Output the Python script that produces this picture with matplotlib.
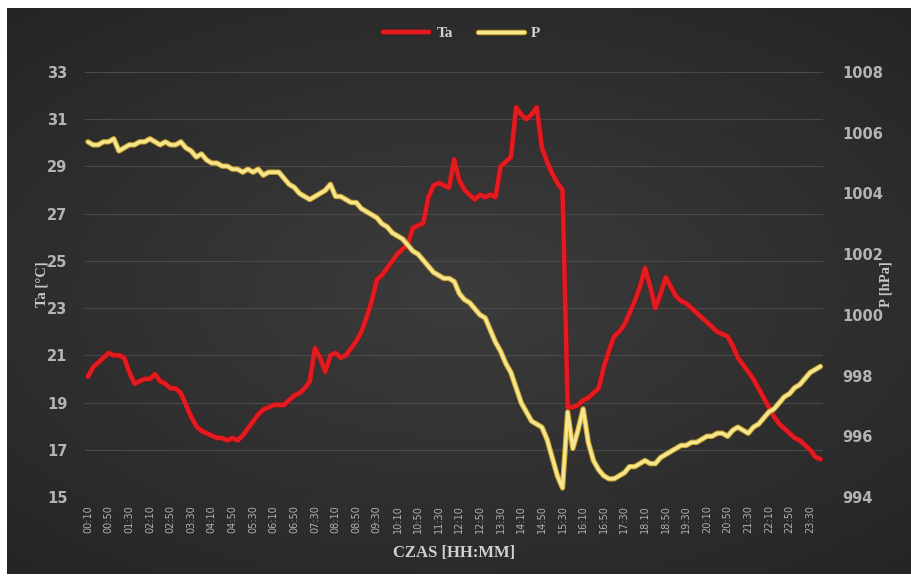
import numpy as np
import matplotlib
matplotlib.use("Agg")
import matplotlib.pyplot as plt
import matplotlib.patheffects as pe

# ---- data ----
times = [f"{(10 + 10 * i) // 60 % 24:02d}:{(10 + 10 * i) % 60:02d}" for i in range(143)]

ta = [20.1, 20.5, 20.7, 20.9, 21.1, 21.0, 21.0, 20.9, 20.3, 19.8,
      19.9, 20.0, 20.0, 20.2, 19.9, 19.8, 19.6, 19.6, 19.4, 18.9,
      18.4, 18.0, 17.8, 17.7, 17.6, 17.5, 17.5, 17.4, 17.5, 17.4,
      17.6, 17.9, 18.2, 18.5, 18.7, 18.8, 18.9, 18.9, 18.9, 19.1,
      19.3, 19.4, 19.6, 19.9, 21.3, 20.9, 20.3, 21.0, 21.1, 20.9,
      21.0, 21.3, 21.6, 22.0, 22.6, 23.3, 24.2, 24.4, 24.7, 25.0,
      25.3, 25.5, 25.7, 26.4, 26.5, 26.6, 27.7, 28.2, 28.3, 28.2,
      28.1, 29.3, 28.4, 28.0, 27.8, 27.6, 27.8, 27.7, 27.8, 27.7,
      29.0, 29.2, 29.4, 31.5, 31.2, 31.0, 31.2, 31.5, 29.8, 29.2,
      28.7, 28.3, 28.0, 18.8, 18.8, 18.9, 19.1, 19.2, 19.4, 19.6,
      20.5, 21.2, 21.8, 22.0, 22.3, 22.8, 23.3, 23.9, 24.7, 23.9,
      23.0, 23.6, 24.3, 23.9, 23.5, 23.3, 23.2, 23.0, 22.8, 22.6,
      22.4, 22.2, 22.0, 21.9, 21.8, 21.4, 20.9, 20.6, 20.3, 20.0,
      19.6, 19.2, 18.8, 18.4, 18.1, 17.9, 17.7, 17.5, 17.4, 17.2,
      17.0, 16.7, 16.6]

p = [1005.7, 1005.6, 1005.6, 1005.7, 1005.7, 1005.8, 1005.4, 1005.5, 1005.6, 1005.6,
     1005.7, 1005.7, 1005.8, 1005.7, 1005.6, 1005.7, 1005.6, 1005.6, 1005.7, 1005.5,
     1005.4, 1005.2, 1005.3, 1005.1, 1005.0, 1005.0, 1004.9, 1004.9, 1004.8, 1004.8,
     1004.7, 1004.8, 1004.7, 1004.8, 1004.6, 1004.7, 1004.7, 1004.7, 1004.5, 1004.3,
     1004.2, 1004.0, 1003.9, 1003.8, 1003.9, 1004.0, 1004.1, 1004.3, 1003.9, 1003.9,
     1003.8, 1003.7, 1003.7, 1003.5, 1003.4, 1003.3, 1003.2, 1003.0, 1002.9, 1002.7,
     1002.6, 1002.5, 1002.3, 1002.1, 1002.0, 1001.8, 1001.6, 1001.4, 1001.3, 1001.2,
     1001.2, 1001.1, 1000.7, 1000.5, 1000.4, 1000.2, 1000.0, 999.9, 999.5, 999.1,
     998.8, 998.4, 998.1, 997.6, 997.1, 996.8, 996.5, 996.4, 996.3, 995.9,
     995.3, 994.7, 994.3, 996.8, 995.6, 996.2, 996.9, 995.8, 995.2, 994.9,
     994.7, 994.6, 994.6, 994.7, 994.8, 995.0, 995.0, 995.1, 995.2, 995.1,
     995.1, 995.3, 995.4, 995.5, 995.6, 995.7, 995.7, 995.8, 995.8, 995.9,
     996.0, 996.0, 996.1, 996.1, 996.0, 996.2, 996.3, 996.2, 996.1, 996.3,
     996.4, 996.6, 996.8, 996.9, 997.1, 997.3, 997.4, 997.6, 997.7, 997.9,
     998.1, 998.2, 998.3]

left_ticks = list(range(15, 34, 2))
right_ticks = list(range(994, 1009, 2))

# ---- figure ----
W, H = 912, 577
fig = plt.figure(figsize=(W / 100, H / 100), dpi=100, facecolor="white")

# dark radial-gradient background panel
bg = fig.add_axes([7 / W, 3 / H, (W - 7) / W, (H - 11) / H], zorder=-5)
yy, xx = np.mgrid[-1:1:300j, -1:1:450j]
r = np.sqrt((xx * 0.9) ** 2 + (yy * 1.0) ** 2)
grad = np.clip(1 - r / 1.4, 0, 1)
bg.imshow(grad, cmap=matplotlib.colors.LinearSegmentedColormap.from_list(
    "g", ["#242424", "#3c3c3c"]), aspect="auto", extent=[0, 1, 0, 1],
    vmin=0, vmax=1)
bg.axis("off")

x0, x1 = 85.4, 823
y0, y1 = 72, 497
ax = fig.add_axes([x0 / W, 1 - y1 / H, (x1 - x0) / W, (y1 - y0) / H])
ax.patch.set_alpha(0)
ax2 = ax.twinx()
ax2.patch.set_alpha(0)

x = np.arange(len(times))

line_ta, = ax.plot(x, ta, color="#e31b20", lw=3.2, solid_capstyle="round",
                   zorder=3, label="Ta")
line_ta.set_path_effects([pe.Stroke(linewidth=4.2, foreground="#8a0d10", alpha=0.6), pe.Normal()])
line_p, = ax2.plot(x, p, color="#f5e690", lw=2.4, solid_capstyle="round",
                   zorder=3, label="P")
line_p.set_path_effects([pe.Stroke(linewidth=3.9, foreground="#c9a12a"), pe.Normal()])

ax.set_xlim(-0.5, len(times) - 0.5)
ax.set_ylim(15, 33)
ax2.set_ylim(994, 1008)
ax.set_yticks(left_ticks)
ax2.set_yticks(right_ticks)
ax.set_xticks(x[::4])
ax.set_xticklabels(times[::4], rotation=90, fontsize=7, color="#b0b0b0")

ax.grid(axis="y", color="#4a4a4a", lw=0.8)
ax.set_axisbelow(True)
for a in (ax, ax2):
    for s in a.spines.values():
        s.set_visible(False)
    a.tick_params(length=0)
ax.tick_params(axis="y", labelsize=10.5, labelcolor="#b4b4b4", pad=13)
ax2.tick_params(axis="y", labelsize=10.5, labelcolor="#b4b4b4", pad=14)
ax.tick_params(axis="x", pad=6)
for t in ax.get_yticklabels() + ax2.get_yticklabels():
    t.set_fontweight("bold")

serif = "Liberation Serif"
ax.set_ylabel("Ta [°C]", fontsize=10.5, color="#c8c8c8", family=serif,
              fontweight="bold")
ax.yaxis.set_label_coords(-0.050, 0.5)
ax2.set_ylabel("P [hPa]", fontsize=10.5, color="#c8c8c8", family=serif,
               fontweight="bold")
ax2.yaxis.set_label_coords(1.077, 0.5)
ax.set_xlabel("CZAS [HH:MM]", fontsize=12, color="#d0d0d0", family=serif,
              fontweight="bold", labelpad=8)

leg = fig.legend(handles=[line_ta, line_p], loc="center",
                 bbox_to_anchor=(462 / W, 1 - 33 / H), ncol=2, frameon=False,
                 prop={"family": serif, "size": 11, "weight": "bold"},
                 handlelength=3.0, columnspacing=1.6, handletextpad=0.5)
for t in leg.get_texts():
    t.set_color("#d0d0d0")

fig.savefig("out.png", dpi=100, facecolor="white")
